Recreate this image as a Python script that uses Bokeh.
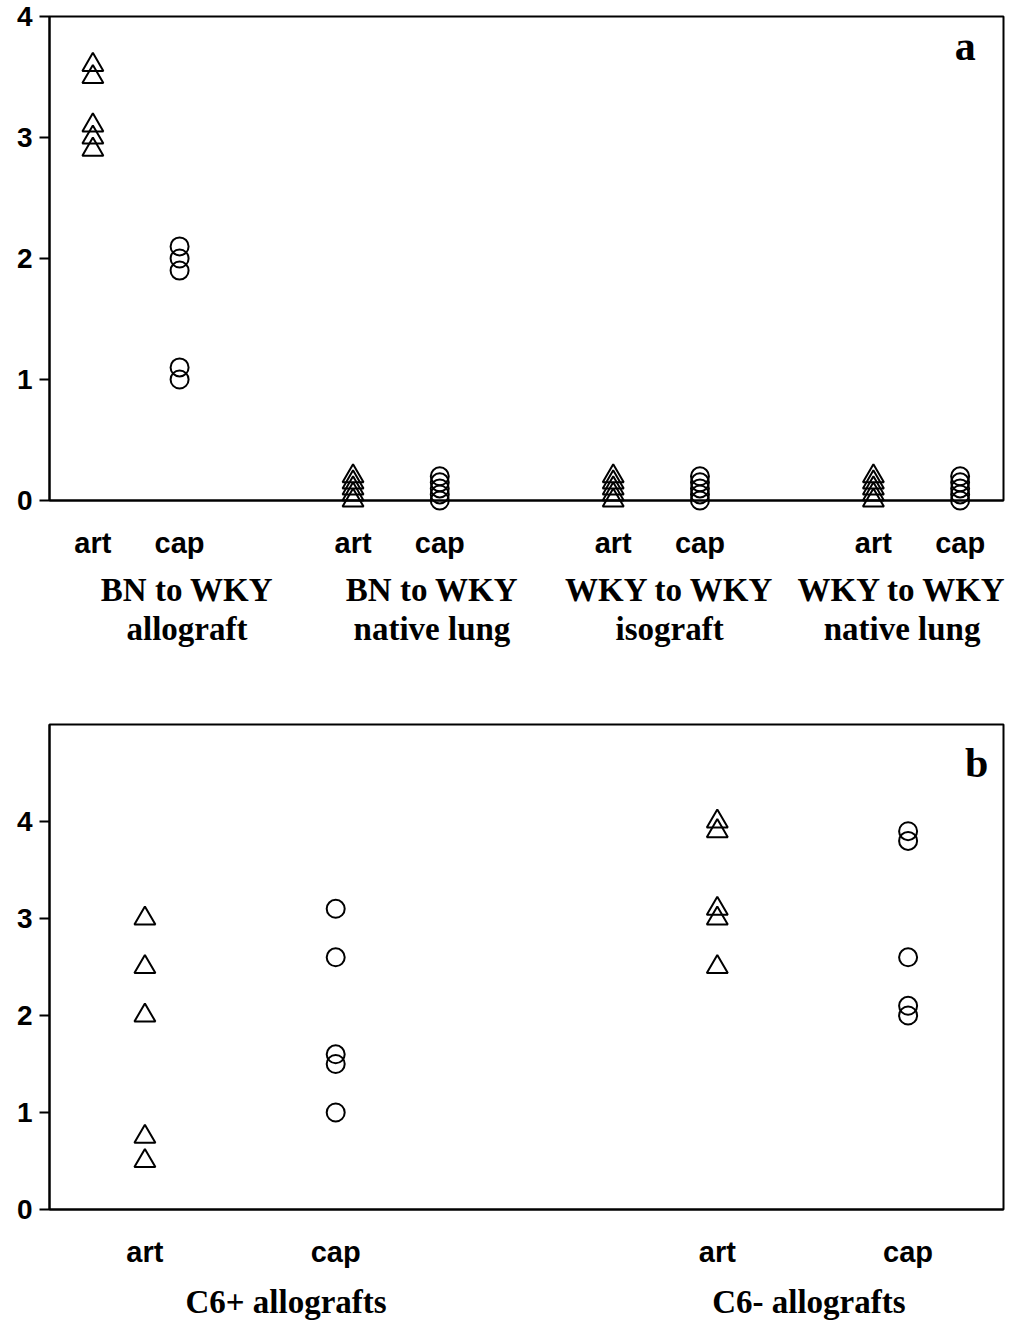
from bokeh.plotting import figure
from bokeh.models import FixedTicker, LinearAxis, Label, Range1d
from bokeh.layouts import column
from bokeh.embed import file_html
from bokeh.resources import INLINE

# ---------------- data: panel a ----------------
a_tick_labels = ["art", "cap", "art", "cap", "art", "cap", "art", "cap"]
a_group_labels = ["BN to WKY\nallograft", "BN to WKY\nnative lung",
                  "WKY to WKY\nisograft", "WKY to WKY\nnative lung"]
a_y_ticks = [0, 1, 2, 3, 4]

bn_allo_art = [3.6, 3.5, 3.1, 3.0, 2.9]
bn_allo_cap = [2.1, 2.0, 1.9, 1.1, 1.0]
bn_native_art = [0.2, 0.15, 0.1, 0.05, 0.0]
bn_native_cap = [0.2, 0.15, 0.1, 0.05, 0.0]
wky_iso_art = [0.2, 0.15, 0.1, 0.05, 0.0]
wky_iso_cap = [0.2, 0.15, 0.1, 0.05, 0.0]
wky_native_art = [0.2, 0.15, 0.1, 0.05, 0.0]
wky_native_cap = [0.2, 0.15, 0.1, 0.05, 0.0]

# ---------------- data: panel b ----------------
b_tick_labels = ["art", "cap", "art", "cap"]
b_group_labels = ["C6+ allografts", "C6- allografts"]
b_y_ticks = [0, 1, 2, 3, 4]

c6pos_art = [3.0, 2.5, 2.0, 0.75, 0.5]
c6pos_cap = [3.1, 2.6, 1.6, 1.5, 1.0]
c6neg_art = [4.0, 3.9, 3.1, 3.0, 2.5]
c6neg_cap = [3.9, 3.8, 2.6, 2.1, 2.0]

SANS = "Liberation Sans"
SERIF = "Liberation Serif"


def make_panel(series, tick_labels, group_labels, group_pos, y_ticks,
               x_end, y_end, letter, letter_pos, top_border, bottom_border,
               frame_h, group_standoff):
    p = figure(frame_width=954, frame_height=frame_h,
               x_range=Range1d(-0.5, x_end), y_range=Range1d(0, y_end),
               output_backend="svg", toolbar_location=None,
               min_border_left=49, min_border_right=4,
               min_border_top=top_border, min_border_bottom=bottom_border)
    p.xgrid.visible = False
    p.ygrid.visible = False
    p.outline_line_color = "black"
    p.outline_line_width = 2
    p.outline_line_alpha = 1
    p.background_fill_color = "white"
    p.border_fill_color = "white"

    # x positions: pairs (art, cap) separated by an empty slot
    xs = []
    for g in range(len(group_labels)):
        xs += [3 * g, 3 * g + 1]

    for i, (vals, marker) in enumerate(series):
        p.scatter([xs[i]] * len(vals), vals, marker=marker,
                  size=21 if marker == "triangle" else 18,
                  fill_color=None, line_color="black", line_width=2,
                  level="overlay")

    # primary x axis: art/cap
    xa = p.xaxis[0]
    xa.ticker = FixedTicker(ticks=xs)
    xa.major_label_overrides = {x: t for x, t in zip(xs, tick_labels)}
    xa.major_tick_line_color = None
    xa.minor_tick_line_color = None
    xa.major_tick_out = 0
    xa.major_tick_in = 0
    xa.axis_line_color = "black"
    xa.axis_line_width = 2
    xa.major_label_standoff = 26
    xa.major_label_text_font = SANS
    xa.major_label_text_font_style = "bold"
    xa.major_label_text_font_size = "29px"
    xa.major_label_text_color = "black"

    # secondary axis: group labels
    ga = LinearAxis(ticker=FixedTicker(ticks=group_pos),
                    major_label_overrides={x: t for x, t in zip(group_pos, group_labels)})
    ga.axis_line_color = None
    ga.major_tick_line_color = None
    ga.minor_tick_line_color = None
    ga.major_tick_out = 0
    ga.major_tick_in = 0
    ga.major_label_standoff = group_standoff
    ga.major_label_text_font = SERIF
    ga.major_label_text_font_style = "bold"
    ga.major_label_text_font_size = "33px"
    ga.major_label_text_color = "black"
    ga.major_label_text_line_height = 1.1
    p.add_layout(ga, "below")

    ya = p.yaxis[0]
    ya.ticker = FixedTicker(ticks=y_ticks)
    ya.minor_tick_line_color = None
    ya.major_tick_out = 10
    ya.major_tick_in = 0
    ya.major_tick_line_width = 2
    ya.axis_line_width = 2
    ya.axis_line_color = "black"
    ya.major_label_standoff = 7
    ya.major_label_text_font = SANS
    ya.major_label_text_font_style = "bold"
    ya.major_label_text_font_size = "28px"
    ya.major_label_text_color = "black"

    p.add_layout(Label(x=letter_pos[0], y=letter_pos[1], text=letter,
                       text_font=SERIF, text_font_style="bold",
                       text_font_size="42px", text_align="center",
                       text_baseline="middle", text_color="black"))
    return p


pa = make_panel(
    [(bn_allo_art, "triangle"), (bn_allo_cap, "circle"),
     (bn_native_art, "triangle"), (bn_native_cap, "circle"),
     (wky_iso_art, "triangle"), (wky_iso_cap, "circle"),
     (wky_native_art, "triangle"), (wky_native_cap, "circle")],
    a_tick_labels, a_group_labels, [1.085, 3.91, 6.65, 9.33], a_y_ticks,
    10.5, 4, "a", (10.06, 3.76), 16, 20, 484, 10)

pb = make_panel(
    [(c6pos_art, "triangle"), (c6pos_cap, "circle"),
     (c6neg_art, "triangle"), (c6neg_cap, "circle")],
    b_tick_labels, b_group_labels, [0.74, 3.48], b_y_ticks,
    4.5, 5, "b", (4.36, 4.6), 74, 0, 485, 13)

layout = column(pa, pb, spacing=0)
open("out.html", "w").write(file_html(layout, INLINE))
